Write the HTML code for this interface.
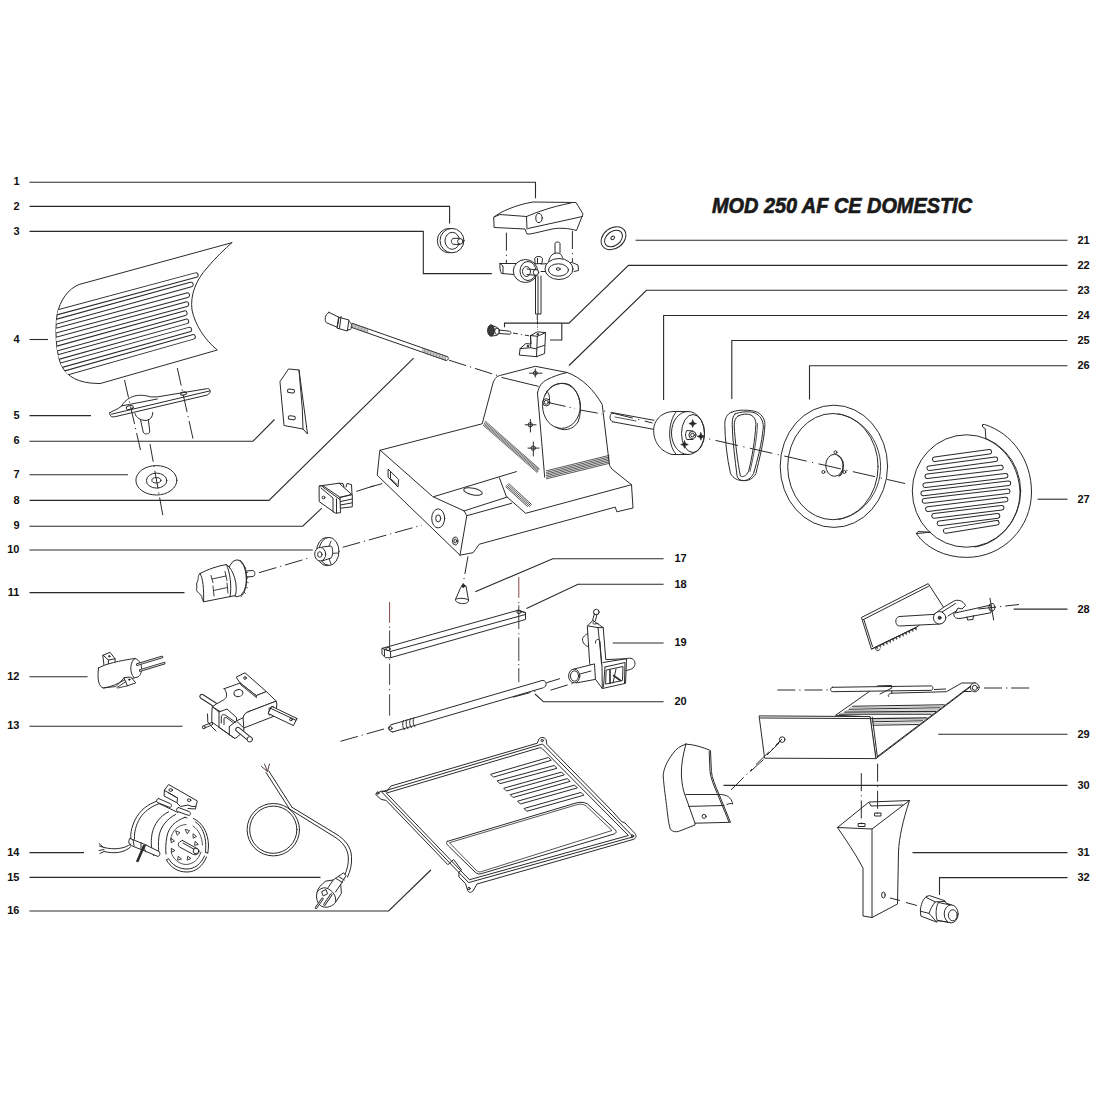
<!DOCTYPE html>
<html><head><meta charset="utf-8">
<style>
html,body{margin:0;padding:0;background:#fff;}
body{width:1100px;height:1100px;overflow:hidden;}
svg{display:block;}
#wrap{width:1100px;height:1100px;}
.lb{font-family:"Liberation Sans",sans-serif;font-weight:bold;font-size:11px;fill:#111;}
</style></head><body><div id="wrap">
<svg width="1100" height="1100" viewBox="0 0 1100 1100">
<defs>
<clipPath id="cov"><path d="M231.8,242.7 L79.1,284.5 C68,289 60,300 57,315 C55,330 56,350 60,362 C64,374 74,381 90,383 L100,383.6 L217.3,350 C205,340 195,325 192,310 C190,295 196,280 207,268 C215,258 225,249 231.8,242.7 Z"/></clipPath>
</defs>
<!-- LABELS -->
<g class="lb" text-anchor="end">
<text x="19.5" y="185">1</text><text x="19.5" y="209.5">2</text><text x="19.5" y="234.5">3</text>
<text x="19.5" y="342.5">4</text><text x="19.5" y="418.5">5</text><text x="19.5" y="444">6</text>
<text x="19.5" y="478">7</text><text x="19.5" y="503.5">8</text><text x="19.5" y="529">9</text>
<text x="19.5" y="553">10</text><text x="19.5" y="595.5">11</text><text x="19.5" y="679.5">12</text>
<text x="19.5" y="729">13</text><text x="19.5" y="855.5">14</text><text x="19.5" y="880.5">15</text>
<text x="19.5" y="914">16</text>
</g>
<g class="lb">
<text x="674.5" y="562">17</text><text x="674.5" y="587.5">18</text><text x="674.5" y="646">19</text><text x="674.5" y="705">20</text>
<text x="1077.5" y="243.5">21</text><text x="1077.5" y="268.5">22</text><text x="1077.5" y="293.5">23</text><text x="1077.5" y="318.5">24</text>
<text x="1077.5" y="343.5">25</text><text x="1077.5" y="368.5">26</text><text x="1077.5" y="502.5">27</text><text x="1077.5" y="612.5">28</text>
<text x="1077.5" y="738">29</text><text x="1077.5" y="788.5">30</text><text x="1077.5" y="855.5">31</text><text x="1077.5" y="881">32</text>
</g>
<text x="712" y="213" style="font-family:'Liberation Sans',sans-serif;font-weight:bold;font-style:italic;font-size:21.5px;fill:#1a1a1a;stroke:#1a1a1a;stroke-width:0.7px" textLength="260" lengthAdjust="spacingAndGlyphs">MOD 250 AF CE DOMESTIC</text>
<!-- LEADERS -->
<g fill="none" stroke="#2a2a2a" stroke-width="1.1">
<path d="M29.5,182.2 H535.5 V198.2"/>
<path d="M29.5,206.4 H449.6 V223.6"/>
<path d="M29.5,231.4 H423.3 V273.6 H491.8"/>
<path d="M29.5,339.5 H48"/>
<path d="M29.5,415.6 H91"/>
<path d="M29.5,441.2 H253 L274.5,419.5"/>
<path d="M29.5,474.8 H128"/>
<path d="M29.5,500.4 H269 L413.6,358.2"/>
<path d="M29.5,526.2 H302.7 L321.8,508.2"/>
<path d="M29.5,550 H312.7"/>
<path d="M29.5,592.6 H184.5"/>
<path d="M29.5,676.7 H87.6"/>
<path d="M29.5,726.2 H182.5"/>
<path d="M29.5,852.6 H84"/>
<path d="M29.5,877.4 H320.5"/>
<path d="M29.5,911 H388.6 L430.9,870"/>
<path d="M663.6,558.7 H552.7 L475.3,591.8"/>
<path d="M663.6,584.2 H578 L526.5,608.5"/>
<path d="M663.6,643 H612.7"/>
<path d="M663.6,701.8 H543.6 L535,694"/>
<path d="M1067.5,240.3 H635.6"/>
<path d="M1067.5,265.4 H628.5 L569,323.1 H561.8 V340 H550 M561.8,323.1 H504.5 V327.3"/>
<path d="M1067.5,290.3 H646.5 L569,365.5"/>
<path d="M1067.5,315.5 H663.6 V400"/>
<path d="M1067.5,340.5 H731.8 V399"/>
<path d="M1067.5,365.7 H809.5 V399.5"/>
<path d="M1067.5,499.2 H1037.6"/>
<path d="M1067.5,609.1 H1013.6"/>
<path d="M1067.5,734.2 H938.2"/>
<path d="M1067.5,785.4 H723.5"/>
<path d="M1067.5,852.6 H912.5"/>
<path d="M1067.5,877.6 H939.5 V895"/>
</g>
<!-- PARTS -->
<g fill="none" stroke="#2a2a2a" stroke-width="1" stroke-linejoin="round" stroke-linecap="round">
<!-- a_cover.svg -->
<path d="M231.8,242.7 L79.1,284.5 C68,289 60,300 57,315 C55,330 56,350 60,362 C64,374 74,381 90,383 L100,383.6 L217.3,350 C205,340 195,325 192,310 C190,295 196,280 207,268 C215,258 225,249 231.8,242.7 Z"/>
<g clip-path="url(#cov)"><path d="M45.0,315.7 L195.8,275.1 M45.0,324.8 L190.9,284.5 M45.0,333.7 L187.2,295.2 M45.0,342.7 L186.4,304.2 M45.0,351.8 L184.8,313.2 M45.0,360.8 L186.4,321.4 M45.0,369.8 L189.3,329.6 M45.0,378.9 L193.0,336.9" stroke-width="5.6"/><path d="M45.0,315.7 L195.8,275.1 M45.0,324.8 L190.9,284.5 M45.0,333.7 L187.2,295.2 M45.0,342.7 L186.4,304.2 M45.0,351.8 L184.8,313.2 M45.0,360.8 L186.4,321.4 M45.0,369.8 L189.3,329.6 M45.0,378.9 L193.0,336.9" stroke="#fff" stroke-width="3.6"/></g>
<!-- b_left.svg -->
<!-- part5 bracket -->
<path d="M135,413.5 C136,418 141,420.5 146,420.5 C150,420 152.5,417.5 152.8,412.5"/>
<path d="M140.5,419.6 L143.2,432 C144,434.5 148.8,434.5 149.8,432 L148.3,419.4"/>
<path fill="#fff" d="M109.8,412.7 C112,411 118,409.5 121.8,405.9 C123.5,402.5 126,400 130.5,397.5 C136,394.8 143,394.5 150.4,396.9 L157.3,396.9 L207.5,388.6 C209.5,388.6 210.5,390 210.2,392.5 L207.3,395 L114.6,416.8 L111.8,416.8 C110,416 109.5,414 109.8,412.7 Z"/>
<path d="M111.5,414.2 L209.5,391 M121.8,405.9 L157.3,399"/>
<ellipse cx="129.8" cy="407.5" rx="3.6" ry="1.8" transform="rotate(-12 129.8 407.5)"/>
<ellipse cx="183.5" cy="393.5" rx="3" ry="1.6" transform="rotate(-12 183.5 393.5)"/>
<!-- axes -->
<g stroke-dasharray="18 4 1.2 4" stroke-linecap="butt">
<path d="M124.5,380 L140.5,450"/>
<path d="M177.3,368 L193,438.7"/>
<path d="M150,444 L163,516.4"/>
</g>
<!-- part7 washer -->
<ellipse cx="156.4" cy="480.3" rx="20.5" ry="14.7"/>
<ellipse cx="156.6" cy="480.6" rx="10.2" ry="7.5"/>
<ellipse cx="156.4" cy="480.3" rx="4.5" ry="2.7"/>
<!-- part6 plate -->
<path d="M289,369 L299,370 L307.5,434 L303,429 L284,425.5 L280,382 Z"/>
<path d="M299,370 L302.3,409 L303,429"/>
<rect x="287.5" y="389.2" width="7" height="3.6" rx="1.6" transform="rotate(8 291 391)"/>
<rect x="288.3" y="416" width="7" height="3.6" rx="1.6" transform="rotate(8 291.8 417.8)"/>

<!-- c_top.svg -->
<!-- part8 rod -->
<path d="M329,312.4 L339,317.3 L337.3,327.3 L326.4,322.7 C324.5,321 324.5,314 329,312.4 Z"/>
<path d="M339,317.3 L349,320 L347.3,331 L337.3,328.2 Z M341,316.5 L339.5,328.5"/>
<path d="M349,321.5 C352,322 352.5,328 350.5,329.5 L347.5,330"/>
<path d="M352.2,323.3 L447.2,356.6 M350.8,327.1 L445.8,360.4"/>
<path d="M447.2,356.6 C449.5,357.4 448.2,361.2 445.8,360.4"/>
<path d="M352.2,323.3 L352.7,327.7 M353.7,323.8 L354.2,328.3 M355.2,324.4 L355.7,328.8 M356.7,324.9 L357.3,329.3 M358.2,325.4 L358.8,329.9 M359.7,326.0 L360.3,330.4 M361.2,326.5 L361.8,330.9 M362.7,327.0 L363.3,331.5 M364.2,327.5 L364.8,332.0 M365.8,328.1 L366.3,332.5 M367.3,328.6 L367.8,333.0 M422.6,348.0 L423.2,352.4 M424.1,348.5 L424.7,353.0 M425.6,349.1 L426.2,353.5 M427.2,349.6 L427.7,354.0 M428.7,350.1 L429.2,354.6 M430.2,350.7 L430.7,355.1 M431.7,351.2 L432.2,355.6 M433.2,351.7 L433.8,356.2 M434.7,352.2 L435.3,356.7 M436.2,352.8 L436.8,357.2 M437.7,353.3 L438.3,357.7 M439.2,353.8 L439.8,358.3 M440.7,354.4 L441.3,358.8 M442.3,354.9 L442.8,359.3 M443.8,355.4 L444.3,359.9 M445.3,356.0 L445.8,360.4" stroke-width="0.6" stroke="#555"/>
<path d="M449,360.2 L497.4,375.5" stroke-dasharray="18 4 1.2 4" stroke-linecap="butt"/>
<!-- part2 knob -->
<ellipse cx="449.3" cy="240.6" rx="12" ry="12.2"/>
<ellipse cx="452" cy="240.6" rx="12" ry="12.2" fill="#fff"/>
<ellipse cx="452.3" cy="240.8" rx="7.3" ry="8.5"/>
<path d="M460,238.3 L454,238.3 C450.5,238.3 450.5,244.4 454,244.4 L460,244.4"/>
<circle cx="460.3" cy="241.4" r="2.7" fill="#fff"/>
<!-- part1 top handle -->
<path d="M494,217 C500,212 515,205 533,202 L576,202.5 L583,214 L576.5,230.5 C568,228 558,227.5 550,229.5 C543,231 536,233 530,234 L527,234 C526,232 525.5,230 525,229 L494.5,227.5 Z"/>
<path d="M494,217 L500,214.5 L526.5,216.5 C535,213 550,207 571,203 M526.5,216.5 L527,229 M528,228.5 L582.5,216.5"/>
<ellipse cx="539" cy="218" rx="3.2" ry="4.6"/>
<g stroke-dasharray="18 4 1.2 4" stroke-linecap="butt">
<path d="M506.4,232.7 V264"/><path d="M572.4,231 V262"/>
<path d="M537.3,314.5 V320"/>
</g>
<!-- part3 assembly -->
<path d="M500,263.5 L535,263.5 M500,263.5 C499.5,267 500,271 501.5,273.5 L514,274.5 M500,263.5 L503,266 L503,273.6"/>
<path d="M541,264 L572,262.5 L578,265 L578.5,270.5 L574,271.5 M541,271.5 L545,271.5"/>
<ellipse cx="525.5" cy="271" rx="12.2" ry="11.5" fill="#fff"/>
<ellipse cx="528" cy="271" rx="8" ry="9.5"/>
<ellipse cx="526.5" cy="271.5" rx="4" ry="5"/><path d="M527,269 L536,269.6 M527,274.6 L536,275.2"/>
<ellipse cx="536" cy="272.4" rx="2.7" ry="2.9" fill="#fff"/>
<path d="M535,258 L537,256.5 L541,256.8 L542.5,258.5 L542,263.5 L535.5,263.8 Z M537.5,258.5 L537.5,263.5"/>
<path d="M535.5,276 L535.5,314 L541,314 L541,276 M538,276 V314"/>
<path d="M548.5,262 C550,255 553,253 558,253 C562,254 563,258 563,260.5" fill="#fff"/>
<path d="M555,253.5 V243.5 C555,241.5 560,241.5 560,243.5 V253"/>
<ellipse cx="559" cy="269" rx="14" ry="10.5" fill="#fff"/>
<ellipse cx="558.5" cy="270" rx="10" ry="6.2"/>
<ellipse cx="558.2" cy="269" rx="2" ry="1.3"/>
<!-- part22 bracket + screw -->
<path fill="#fff" d="M530.7,335.5 L537.3,331.8 L545.5,332.6 L544.6,353.5 L536.5,356.7 L519.3,355.1 L520.1,348.6 L525.8,343.6 L530.7,344 Z"/>
<path d="M530.7,335.5 L537.3,336.3 L545.5,332.6 M537.3,336.3 L536.5,356.7 M530.7,335.5 L530.7,347.7 L520.1,348.6 M530.7,347.7 L536.8,349 M537.3,347.7 L544.6,345.3"/>
<circle cx="537.7" cy="334.2" r="0.8" fill="#222"/><circle cx="527.9" cy="346.1" r="0.8" fill="#222"/>
<path d="M537.5,320.5 V330" stroke-dasharray="4 2 1 2" stroke-linecap="butt"/>
<path d="M491,325 L496.5,327.2 C500.5,328.5 500.5,334 496.5,335.5 L491,336" fill="#fff"/>
<ellipse cx="491" cy="330.5" rx="3.4" ry="5.6" fill="#3a3a3a" stroke-width="1"/>
<ellipse cx="497" cy="331.3" rx="2.3" ry="3.2" fill="#fff"/>
<path d="M499,330 L509.5,331.2 C511.5,331.6 511.5,334 509.5,334.2 L499,333.5"/>
<path d="M513,333 L529,335.8" stroke-dasharray="5 3 1 3" stroke-linecap="butt"/>
<!-- part21 washer -->
<ellipse cx="613.5" cy="238.2" rx="13.5" ry="10.2" transform="rotate(-38 613.5 238.2)"/>
<ellipse cx="613.5" cy="238.5" rx="10" ry="7" transform="rotate(-38 613.5 238.5)"/>
<ellipse cx="612.7" cy="237.9" rx="2" ry="1.5" transform="rotate(-38 612.7 237.9)"/>

<!-- d_body.svg -->
<!-- part23 body outline -->
<path d="M380.2,450.2 L482.2,423.8 L493.1,382.6 C495,378 497,376 500.4,375.4 L535.3,366.3 L567.3,372.5 C582,378 594,390 602.2,404.5 L609.5,465.5 L612.2,469.3 L631.5,484.7 L633,508 L616.8,511.8 L615.3,507.1 L479.3,544.2 L475.4,549.6 L473.1,552.7 L460,555.2 L377.5,475.5 Z"/>
<path d="M380.2,450.2 L432.7,496.6 L464.1,510.9 L466.8,515.7 L460,555.2 M464.1,510.9 L507.1,497.1 M466.8,515.7 L511.7,503.3"/>
<path d="M434,496.6 L516.4,471.6 M499.4,477.8 L506.3,496.3 L525.6,513.3 L631.5,484.7"/>
<!-- tower -->
<path d="M501.8,377.5 L538.2,386.3"/>
<path d="M537.5,392.8 C539,386 542,382 547,379.7 C553,376.5 560,374 567.3,372.5"/>
<path d="M537.5,392.8 L544.7,477.2"/>
<ellipse cx="561.5" cy="405.9" rx="18.9" ry="22.5"/>
<path d="M545,395 C550,384 562,381 570,385 C580,391 583,410 578,422 C573,430 563,432 556,427"/>
<circle cx="546.3" cy="402.3" r="3.6"/><circle cx="546.3" cy="402.3" r="2"/>
<path d="M546.5,391 C549,393 550,397 549.5,400"/>
<path d="M548,402.5 L575,408.5 M580,410 L602.2,413.9" stroke-dasharray="18 4 1.2 4" stroke-linecap="butt"/>
<!-- cross marks -->
<path d="M525.2,424.8 H536 M530.4,419.5 V432 M528,448.1 H539 M533.3,442 V456 M529.5,373.2 H542 M535.3,369 V377"/>
<circle cx="530.3" cy="424.8" r="2.2"/><circle cx="533.3" cy="448.1" r="2.2"/><circle cx="535.3" cy="373.2" r="2"/>
<!-- hatching left slope -->
<path d="M484.4,423.4 L538.2,470.6 M484.9,422.3 L538.7,469.6 M485.4,421.2 L539.2,468.6 M483.9,424.4 L537.7,471.6 M483.4,425.4 L537.2,472.6" stroke-width="0.7"/>
<!-- hatching front bottom -->
<path d="M546.5,470.8 L609,455.4 M546.5,472.4 L609,457.0 M546.5,474.0 L609,458.6 M546.5,475.6 L609,460.2 M546.5,477.2 L609,461.8 M546.5,478.8 L609,463.4" stroke-width="0.8"/>
<!-- hatch near groove -->
<path d="M506.3,485.5 L529.5,506.4 M507.5,484.5 L530.5,505.4 M508.7,483.5 L531.5,504.4 M506,487 L527.5,506.5" stroke-width="0.8"/>
<!-- holes -->
<path d="M388.4,469.3 L398.6,479.5 L398,487 L388.4,477.5 Z M390.5,472 L390.5,478.5 L397,484.5"/>
<ellipse cx="438.2" cy="518.4" rx="6.5" ry="9.5"/>
<ellipse cx="438.2" cy="518.4" rx="2.5" ry="3.5"/>
<ellipse cx="455.2" cy="541" rx="2.7" ry="4"/><ellipse cx="455.2" cy="541" rx="1.3" ry="2"/>
<ellipse cx="473" cy="491.5" rx="9.5" ry="3.3" transform="rotate(12 473 491.5)"/>
<path d="M370,487 L382.3,483.6" stroke-dasharray="18 4 1.2 4" stroke-linecap="butt"/>
<path d="M356.4,491.4 L376.4,485" stroke-dasharray="18 4 1.2 4" stroke-linecap="butt"/>


<!-- e_right.svg -->
<!-- part24 -->
<path d="M612.7,412.7 L654,420.3 M612.7,421.8 L653.5,429.3 M612.7,412.7 C609,413.5 609,421 612.7,421.8"/>
<path d="M615,417 L636,421" stroke-width="0.8"/>
<path d="M688,411.5 L673,411.5 C663,412 656,418 654,426.5 C652.5,436 656,450 672,454.5 L688,454.5"/>
<path d="M676,412 C668,422 667,444 676,454.2"/>
<ellipse cx="688" cy="433" rx="16.5" ry="21.5"/>
<ellipse cx="693" cy="433.5" rx="11.5" ry="19"/>
<path d="M687,430.5 L693,431 M687,439.5 L693,439.5 M687,430.5 C685,432 685,438 687,439.5"/>
<circle cx="692.5" cy="435" r="3.6"/><circle cx="692.5" cy="435" r="1.8"/>
<path d="M692.7,419.8 L693.8,422.5 L696.5,423.6 L693.8,424.7 L692.7,427.4 L691.6,424.7 L688.9,423.6 L691.6,422.5 Z M700.9,432.6 L702,435.3 L704.7,436.4 L702,437.5 L700.9,440.2 L699.8,437.5 L697.1,436.4 L699.8,435.3 Z M684.5,440.7 L685.6,443.4 L688.3,444.5 L685.6,445.6 L684.5,448.3 L683.4,445.6 L680.7,444.5 L683.4,443.4 Z" fill="#222" stroke-width="0.6"/>
<path d="M600,410 L652.5,423 M705,438 L905,483.5" stroke-dasharray="23 5.5 1.2 5.5" stroke-dashoffset="24.4" stroke-linecap="butt"/>
<!-- part25 -->
<path d="M731.4,412.3 C736,410.5 740,410 743.6,410.2 C749,410 754,410.8 757.6,412.3 C762,415 764.9,419 764.9,424.5 C764.5,440 759,460 755.9,473.6 C753,479 748,481 743.6,480.6 C738,481 733,478 730.5,473.6 C727,458 725,440 724.8,424.5 C724.8,418 727,414 731.4,412.3 Z"/>
<path d="M735,414 C740,411.5 750,411 755,413 C760,415.5 763.3,420 763.3,427 C762,443 757,462 753.5,473.6 C751,478.5 747,480.5 743.6,480.6 C740,480.5 738,479 737.1,476.1 C735,460 732.5,440 732.2,424.5 C732.2,419 733,416 735,414 Z"/>
<path d="M738,416 C742,413.8 748,413.5 751,415 C754.5,417 756,420 755.9,424.5 C755,440 752,458 748.6,471.2 C746.5,476 742.5,477.5 740.4,476.1 C737.5,462 735,440 734.2,426.2 C734,421 735.5,417.5 738,416 Z"/>
<path d="M757.5,423.5 C757,440 753,458 750,471.5" stroke-width="0.8"/>
<!-- part26 -->
<ellipse cx="833.9" cy="466.3" rx="53.7" ry="61.1"/>
<ellipse cx="832.9" cy="466.6" rx="45.2" ry="53.1"/>
<path d="M838,413.8 C862,418 880.5,440 880.6,466.6 C880.5,494 862,515.5 838,519.5" stroke-width="0.9"/>
<ellipse cx="834.5" cy="465.3" rx="8.8" ry="11"/>
<path d="M838,455.5 C842.5,458 843.8,464 843,470 C842.3,473 841,475 839,476" stroke-width="1.2"/>
<circle cx="835.5" cy="452.3" r="1.5"/><circle cx="823.4" cy="472" r="1.5"/><circle cx="844.4" cy="472" r="1.5"/>
<!-- part27 -->
<ellipse cx="966.5" cy="491" rx="54.2" ry="56.2"/>
<path d="M985.9,438.9 C1005,447 1019,467 1020,492 C1020,520 1000,543 975,547" />
<path d="M982.5,426.6 L985.2,428.6 L985.9,438.9 M982.5,426.6 L982.5,424.5 L984.5,424.5 C1012,433 1031.5,460 1031.5,492 C1031.5,528 1003,557.4 966.5,557.4 C945,557.4 926,548 916.4,533.6 L930,532.2"/>
<path d="M916.4,533.6 L918,531.5 L930,532.2"/>

<path d="M934.8,459.3 L989.3,451.8 M929.3,468.2 L995.4,459.3 M927.3,476.3 L1000.9,467.5 M925.2,485.2 L1005.6,475.7 M923.2,493.4 L1008.4,483.2 M924.5,500.9 L1007.7,491.3 M927.9,509.1 L1005.6,499.5 M934.1,515.9 L1001.6,507.7 M939.5,523.4 L997.5,515.9 M945.7,530.9 L996.8,522.7" stroke-width="5.6"/><path d="M934.8,459.3 L989.3,451.8 M929.3,468.2 L995.4,459.3 M927.3,476.3 L1000.9,467.5 M925.2,485.2 L1005.6,475.7 M923.2,493.4 L1008.4,483.2 M924.5,500.9 L1007.7,491.3 M927.9,509.1 L1005.6,499.5 M934.1,515.9 L1001.6,507.7 M939.5,523.4 L997.5,515.9 M945.7,530.9 L996.8,522.7" stroke="#fff" stroke-width="3.6"/>
<!-- f_midleft.svg -->
<!-- part9 switch -->
<path d="M319.5,486 L322.7,485.5 L340,497.3 L340.5,512.7 L335.5,513.2 L319.5,501.8 Z"/>
<path d="M322.7,485.5 L322.7,487 L340,499.5 M321,488 L333,498 L333,512 M336.5,499 L336.5,513"/>
<path d="M319.5,486 L339,483.2 L351.8,494.5 L340,497.3 M339,483.2 L343,483.5 L344,487 M346,487 L347,483.5 L351.5,484.5 L352,494"/>
<path d="M340.2,497.5 L352.3,494.5 L352.3,506.8 L340.5,508.2 M340.5,501.5 L352.3,499 M340.5,505 L352.3,502.8"/>
<circle cx="323.5" cy="497.5" r="1.4"/>
<!-- part10 small knob -->
<ellipse cx="327" cy="551.6" rx="10.5" ry="14.1"/>
<ellipse cx="329" cy="551.4" rx="10" ry="14" fill="#fff"/>
<path d="M331,541 L328.5,547.5 M330.5,553.5 L338.5,553 M329,558.5 L331,564" stroke-width="0.9"/>
<path d="M322,547 L331,546 C333,547 333.5,555 331,558 L322,561" fill="#fff"/>
<ellipse cx="320.2" cy="554.2" rx="5.5" ry="6.8" fill="#fff"/>
<ellipse cx="319.8" cy="554.5" rx="2.2" ry="2.8"/>
<!-- part11 knob -->
<ellipse cx="237" cy="578.3" rx="9.8" ry="18.5" fill="#fff"/>
<path d="M240,560.3 C247,564 249.5,590 241,596.6"/>
<path d="M241.5,563 L243,564.5 M244,567 L246,568 M245.5,572 L247.5,572.5 M246.2,577 L248.2,577 M246.2,582 L248.2,582.5 M245.6,587 L247.5,588 M244,592 L245.5,593.5" stroke-width="0.8"/>
<path fill="#fff" d="M200,573.6 C208,569 218,566 226.4,564.5 C234,570 238,585 235.5,595.5 L203.6,601.8 C202.5,600.5 202,598.5 201.8,596.4 C201,594 197,593 196.4,589.5 C198,587 195.5,585 197.3,581.8 C199,579 197,576 200,573.6 Z"/>
<path d="M200,573.6 C203,577 204,590 203.6,601.8 M226.4,564.5 C230,572 232,586 230,597"/>
<path d="M211,575.5 L213,582.5 M225,571.5 L227,580.5 M212,579 L226,576 M213,586 L214,596 M227,583 L228,593 M213.5,590.5 L227.5,587.5" stroke-width="0.9"/>
<path d="M246.4,571 L253,570.5 C255.5,571.5 255.5,575.5 253,576.5 L246.6,577"/>
<path d="M259,572.7 L308.2,558.2 M342.7,547.3 L421.8,525.2" stroke-dasharray="18 4 1.2 4" stroke-linecap="butt"/>
<!-- part12 capacitor -->
<path fill="#fff" d="M103.1,655.2 L110,652.3 L115.1,658.8 L115.1,663.2 L108.2,666.1 L104.5,666 Z"/>
<path d="M103.1,655.2 L108.5,660 L115.1,658.8 M108.5,660 L108.2,666.1"/>
<circle cx="109.3" cy="656.3" r="0.7" fill="#222"/>
<path fill="#fff" d="M98.5,668 C105,664 120,660.5 135,658.5 C140,660 142,666 141.6,670 C141,675 139,677 136,677.5 L124,680 C118,684 112,686.5 103.5,688 C99,687 97,680 98.5,668 Z"/>
<path d="M135,658.5 C130,661 129,673 134,677.5"/>
<path d="M137.3,664.6 L162,657 M140.2,670.5 L164.2,663.2" stroke-width="2.6"/>
<path d="M137.3,664.6 L162,657 M140.2,670.5 L164.2,663.2" stroke="#fff" stroke-width="0.8"/>
<path fill="#fff" d="M124.2,677.7 L130.7,677 L135.8,682.8 L127.8,685.7 Z"/>
<circle cx="129.3" cy="679.6" r="0.7" fill="#222"/>
<path d="M124.2,677.7 L116,686.5 L103.5,688 M127.8,685.7 L118,688 M126,681.5 L117,687.5" stroke-width="0.9"/>
<!-- part13 switch bracket -->
<path d="M202,696.5 L216,705.5" stroke-width="5.2"/><path d="M202,696.5 L216,705.5" stroke="#fff" stroke-width="3.2"/>
<path fill="#fff" d="M236.5,677 L245,672.8 L266.4,691.6 L256.2,695.6 L240.2,683 Z"/>
<circle cx="245" cy="678" r="1.3"/>
<path fill="#fff" d="M224.2,688.7 L240.2,683 L256.2,695.6 L266.4,691.6 L276.2,701.1 L249,711.5 C246,712.5 244,714 243.1,717.8 L236,721 L212.5,706.9 L216.2,704 C222,701 226,699 226.4,696.7 C227,693 225.5,690 224.2,688.7 Z"/>
<path d="M240.2,683 L241,685 L256.5,697.5 L256.2,695.6"/>
<ellipse cx="238.4" cy="693.1" rx="4.5" ry="3.5" transform="rotate(-10 238.4 693.1)"/>
<path fill="#fff" d="M249,711.5 L276.2,701.1 L276.9,704 L275.6,715.6 L243.8,728 L243.1,717.8 C244,714 246,712.5 249,711.5 Z"/>
<path d="M269.5,708 L273.5,706.5 L273.5,713.5 L269.5,715 Z"/>
<path fill="#fff" d="M272,706.5 L297,718.5 L293.4,725.6 L268.4,713.6 Z"/>
<path d="M271,708.5 L296,720.3 L297,718.5"/>
<circle cx="291" cy="719.5" r="1.3"/>
<path fill="#fff" d="M212.5,706.9 L219,712 L227,709 L236.5,717.5 L236.5,721 L243.8,728 L243.8,731 L236,738 L234.4,738.2 L211.8,722 L211.8,714.2 Z"/>
<path d="M221.3,723 L221.3,717 C221.3,714.5 224,714 226,715.5 L235.8,722.5 M224,724.5 L224,719 C224,717.5 225.5,717 227,718 L233,722.5"/>
<path d="M219,712 L219,727.5 M229.3,726.5 L229.3,735 M219,727.5 L234.4,738.2 M236.5,721 L229.3,726.5"/>
<path d="M238,729.5 L249.6,739" stroke-width="5.4"/><path d="M238,729.5 L249.6,739" stroke="#fff" stroke-width="3.4"/>
<ellipse cx="249.8" cy="739.3" rx="2.7" ry="2.7" fill="#fff"/>
<path d="M204,727 L211.5,723.8" stroke-width="3.2"/><path d="M204,727 L211.5,723.8" stroke="#fff" stroke-width="1.4"/>
<circle cx="203.8" cy="727.3" r="1.5" fill="#fff"/>
<path d="M207.5,714 L207.8,722 L212,727 L216,731"/>

<!-- g_bottom.svg -->
<!-- part14 motor -->
<path d="M157.7,800.9 C148,804 140,810 135,820 C131,828 130,836 131.1,840.5"/>
<path d="M159.1,803.6 C150,807 144,812 140,818 C136,825 134,832 134.5,839.1"/>
<path d="M159.1,803.6 L178,812.5"/>
<path d="M168.6,811.8 C160,816 154,824 152,834 C150.5,843 151.5,850 153.6,855.5"/>
<path d="M175.5,814.5 C167,819 161,826 159,836 C158,844 158.5,850 159.1,854.1"/>
<path d="M185,817.3 C175,821 169,827 167,836 C165.5,844 165.5,850 166,854"/>
<path d="M185,817.3 L187,818"/>
<path d="M193.5,818.5 C203,823 208,833 208.5,845 C208.5,848 208.2,851 207.8,853"/>
<path d="M195.5,822 C202,826 205.5,835 205.8,845 C205.8,848 205.6,850 205.3,852.5 L207.8,853"/>
<path d="M206.5,857 C203,866 196,872 187,872 C178,872 171,868 166.5,860"/>
<path d="M204.5,856 C201,864 194.5,869 187,869 C179,869 172,865 168.5,858.5 L166.5,860"/>
<path d="M170.5,840 C172,830 178,825 186,824.5 M193,826 C199,830 202,837 202.5,845 M201,852 C198.5,860 193,864 186.5,864.5 C179,864.5 173,859 171,852" stroke-width="0.8"/>
<path d="M176,831 L180,832.5 L177.5,835 Z M185.5,829.5 L189.5,830.5 L187.5,833.5 Z M193.3,834 L196.5,836.5 L193.5,838 Z M195.5,841.5 L198.3,844.5 L195,845.3 Z M188,856.5 L191,858.5 L187.5,860 Z M178.5,856.5 L181.5,859 L178,860 Z M171.5,848.5 L175,850.5 L172,852 Z M171.5,838.5 L174.5,841 L171.5,842.5 Z" stroke-width="0.9"/>
<path fill="#fff" d="M182.5,840.5 L197,848.5 C199.5,850 199.5,853 197.5,854 C196,855 194,855 192.5,854 L179.5,847 C177.5,845.5 177.5,842 182.5,840.5 Z"/>
<path d="M183,843 L197,851"/>
<circle cx="196" cy="851" r="2.8" fill="#fff"/>
<path fill="#fff" d="M164.5,790 L168.6,784.5 L197.3,800.9 L195.9,806.4 L192,806.5 L188,805 L180.5,806.5 L177,803 L177.5,798 L168,792.5 Z"/>
<path d="M164.5,790 L164,796 L176.5,802.5 M168,792.5 L177.5,798 M195.9,806.4 L195.5,809 L188,808.5"/>
<ellipse cx="170.7" cy="790" rx="1.8" ry="1.3"/><ellipse cx="189.1" cy="800.2" rx="1.8" ry="1.3"/>
<path fill="#fff" d="M158.5,798.5 L170,803.5 C172,804.5 172,807 170,807.5 L157.5,802.5 C156,801.5 156.5,798.5 158.5,798.5 Z"/>
<path fill="#fff" d="M178.5,807.5 L189,811.5 C191,812.5 191,815 189,815.5 L177.5,811.5 C176,810.5 176.5,807.5 178.5,807.5 Z"/>
<path fill="#fff" d="M130,838.5 L145,844.5 L158,851 C160.5,852 160.5,855.5 158,856.5 L146,851.5 L131,845.5 C128.5,844.5 128,839.5 130,838.5 Z"/>
<path d="M133,839.5 L134,845.5 M146,845 C144,846 144,850.5 146,851.5 M141,842.5 L141,848.5"/>
<path d="M130.5,847 C124,853 114,854 104,851.5 M131,844 C124,849 114,850 104,847.5"/>
<path d="M104,847.5 L99.5,846 M104,849.5 L99,850.5 M104,851.5 L100,853.5 M103,847 L99,843.5"/>
<path d="M144,846 L137.5,861" stroke-width="2.6" stroke-dasharray="1 0.6"/>
<!-- part15 cord -->
<circle cx="273.3" cy="829.7" r="26.2"/>
<circle cx="273.3" cy="829.7" r="23.6"/>
<path d="M266,772.5 L289.5,809 M268.8,771 L292,807.3"/>
<path d="M289.5,809 L334,836.5 C343,842 347.8,849 348.3,857 C348.8,864 347,870 344.5,875.5"/>
<path d="M292,807.3 L336,834 C345.5,840 351,847 351.5,856.5 C352,864 350.5,871 347.5,877"/>
<path d="M267.5,771.5 L261.5,766.5 M267.5,771.5 L264.5,764 M267.5,771.5 L269.5,764" stroke="#5a3a3a"/>
<path fill="#fff" d="M343.3,873 L333.1,880 L325.5,881.2 C321,885 318,888 317.2,892 C315.5,897 317,904 322,906.5 C327,908.5 333,906 335.6,902.2 L341.4,893.3 L340.7,884.4 L345.8,876 Z"/>
<path d="M317.2,892 C320,888 324,887 327.5,888.5 C333,891 336.5,896 335.6,902.2 M327.5,888.5 L333.1,880 M335.5,892 L340.7,884.4 M336,878.5 L342.5,882.5 M338.5,876.5 L344.3,880"/>
<path d="M316,907.8 L322.5,898.8 M324.5,904.5 L331.3,894.5" stroke-width="2.4"/>
<path d="M316,907.8 L322.5,898.8 M324.5,904.5 L331.3,894.5" stroke="#fff" stroke-width="0.9"/>
<path d="M322,891.5 L326,889.5 L327.5,893.8 L323.5,895.8 Z"/>
<!-- part16 tray -->
<path d="M375.8,794.1 L381.5,791 L386.7,791.8 L390.7,786.1 L537.3,743.2 L538.5,740 C539.5,737 544,736.5 546,739.5 L546.9,744.4 L612.4,811.3 L621.5,821.5 L625,823 L635,833.5 C637,836.5 636,838.5 633,839.5 L477,884 L473,891 C471,893 468,892.5 467.5,890 L465.5,883.5 L458.9,877 L458.9,872 L461.5,870 L453.6,859.5 L447.9,864.7 L386.2,800.4 L381.5,799.5 Z"/>
<path d="M381.9,791.7 542.5,744.0 633.3,836.8 469.0,882.5 Z"/>
<path d="M386.7,793.0 L538,748.2 C540,747.6 541.5,747.6 542.5,748.8 L628.4,835.5 L469.8,879.6 Z"/>
<circle cx="377.8" cy="793" r="1.2"/><circle cx="542.2" cy="740.5" r="1.2"/><circle cx="632.5" cy="836" r="1.2"/><circle cx="469" cy="888.5" r="1.2"/>
<path d="M447.3,841.4 L576,803 C580,801.8 584,802 587.6,804 L614.5,829 C617,831.5 616.5,833 614,834 L482,873.5 C479,874.5 477,874 475,872 L448.5,846 C446,843.5 446,842 447.3,841.4 Z"/>
<path d="M449.8,842.6 L576.5,804.8 C579.8,803.8 583,804 586,805.8 L612,830.5 L481.5,871.6 C479.5,872.2 478,872 476.5,870.5 Z" stroke-width="0.8"/>
<path d="M491.0,774.2 L548.4,757.5 L551.2,760.3 L493.8,777.0 Z M497.5,780.8 L554.2,765.5 L557.0,768.3 L500.3,783.6 Z M504.1,788.1 L561.5,772.1 L564.3,774.9 L506.9,790.9 Z M510.6,794.6 L567.3,778.6 L570.1,781.4 L513.4,797.4 Z M517.9,801.1 L574.6,785.1 L577.4,787.9 L520.7,803.9 Z M524.4,808.4 L581.1,792.4 L583.9,795.2 L527.2,811.2 Z"/>

<!-- h_mid.svg -->
<!-- part17 foot -->
<path d="M468,556.3 L462.8,585.5" stroke-dasharray="18 4 1.2 4" stroke-linecap="butt"/>
<path fill="#fff" d="M461,587 C462,585 464,584.5 466,586 L468.5,600 C468.5,603 465,604 461.5,603.5 C457.5,603 455,601.5 455.5,599.5 Z"/>
<path d="M455.5,599.5 C458,597.5 466,598 468.5,600"/>
<circle cx="463.3" cy="586" r="1.4" fill="#222"/>
<!-- part18 bar -->
<path fill="#fff" d="M382.3,648.3 L388.5,646.6 L518.2,610.2 L525.5,612.7 L525.5,619.5 L390.6,657.7 L385.4,657.7 L382.3,654.5 Z"/>
<path d="M382.3,648.3 L384.4,649.3 L390.6,651.4 L525.5,614.5 M384.4,649.3 L384.5,656 M390.6,651.4 L390.6,657.7 M518.2,610.2 L525.5,612.7"/>
<path d="M389.6,602 V622.8" stroke="#7a3030" stroke-linecap="butt" stroke-width="0.9"/><path d="M389.6,626.5 V627.8 M389.6,630.5 V651 M389.6,659 V660 M389.6,663.6 V684.8 M389.6,689 V690.3 M389.6,694.3 V715.6" stroke-linecap="butt" stroke-width="0.9"/>
<path d="M518.8,577.1 V597.8" stroke="#7a3030" stroke-linecap="butt" stroke-width="0.9"/><path d="M518.8,601.9 V603.1 M518.8,605.5 V629.1 M518.8,633.2 V634.4 M518.8,637.4 V661 M518.8,664 V665.2 M518.8,668.1 V682.3" stroke-linecap="butt" stroke-width="0.9"/>
<ellipse cx="388" cy="649" rx="2.2" ry="1.5"/><ellipse cx="519" cy="612" rx="2.2" ry="1.5"/>
<!-- part20 rod -->
<path d="M392,724.5 L542,680.5 C545,680 546.5,682.5 546,685 C545.5,687 544,687.5 542.5,688 L392.5,732" fill="#fff"/>
<path d="M392,724.5 C388,725 387,731 392.5,732"/>
<circle cx="390.5" cy="728.3" r="1.6"/>
<path d="M403.5,720.5 C402,723 402.5,728 404.5,729.8 M407,719.5 C405.5,722 406,727 408,728.8 M410.5,718.5 C409,721 409.5,726 411.5,727.8 M414,717.5 C412.5,720 413,725 415,726.8"/>
<path d="M340.5,741.3 L388.5,727.7 M546.4,682.8 L560,678.6" stroke-dasharray="18 4 1.2 4" stroke-linecap="butt"/>
<!-- part19 -->
<circle cx="596.3" cy="612.1" r="2.8"/><path d="M594.5,613.5 L592.5,620.5 M597,614 L595.5,620.5"/>
<path fill="#fff" d="M589.5,633 C585,634 582.5,638 582.5,639 C582.5,643 585,646 589.5,647 Z"/>
<path fill="#fff" d="M587.6,625.9 L592.8,620.3 L603.2,627.6 L605.8,659.6 L626.5,658.7 L625.6,683.3 L602.3,688.5 L595.5,679.4 L589.8,663.9 Z"/>
<path d="M587.6,625.9 L598,627.6 L603.2,627.6 M598,627.6 L602,666 L602.3,688.5 M594,621.5 C592,622.5 592.5,624 594.5,624 L598,623.5"/>
<path d="M595.5,643 C595,639 599,638 600,641.5 L601.5,664"/>
<path d="M603,662.5 L626.5,658.7 M605,667 L603.5,687 M605,667 L625,662.5 L624.5,683.5"/>
<path d="M606.5,670 L623,666.5 L622.5,680.5 L606,684 Z"/>
<path d="M610,670 L610,683.5 M613.5,675.5 L620.5,680.5" stroke-width="1.6"/>
<path d="M616,669 L613,683"/>
<path d="M626.5,658.7 C631,657 634.5,659 635,663 C635,667 633,669.5 626,670.5"/>
<path fill="#fff" d="M574.2,669 L594.5,663.9 L595.4,679.4 L576.4,682.9 Z"/>
<ellipse cx="574.2" cy="676" rx="5.6" ry="6.9" fill="#fff"/>
<ellipse cx="574.5" cy="676" rx="4" ry="5.2"/>
<path d="M580,674 L591,671"/>
<path d="M550.5,690.2 L575.5,682.5 M513,697.2 L535.5,691.2" stroke-dasharray="18 4 1.2 4" stroke-linecap="butt"/>

<!-- i_rbot.svg -->
<!-- part28 pusher -->
<path fill="#fff" d="M861.8,617.3 L928.2,583.6 L943.6,607.3 L916.4,627.3 L871.8,649 Z"/>
<path d="M862.5,620 L928.5,586.3 M864,620 L872.5,646.5"/>
<path d="M871.8,649 L916.4,627.3"/>
<path d="M875.8,647.1 L877.4,646.3 L877.6,648.7 Z M879.0,645.6 L880.6,644.8 L880.8,647.1 Z M882.3,644.0 L883.9,643.2 L884.0,645.6 Z M885.5,642.4 L887.1,641.6 L887.3,644.0 Z M888.7,640.8 L890.3,640.0 L890.5,642.4 Z M892.0,639.2 L893.6,638.4 L893.7,640.8 Z M895.2,637.7 L896.8,636.9 L897.0,639.2 Z M898.4,636.1 L900.0,635.3 L900.2,637.7 Z M901.7,634.5 L903.3,633.7 L903.4,636.1 Z M904.9,632.9 L906.5,632.1 L906.7,634.5 Z M908.1,631.3 L909.7,630.5 L909.9,632.9 Z M911.4,629.8 L913.0,629.0 L913.1,631.3 Z M914.6,628.2 L916.2,627.4 L916.4,629.8 Z" fill="#333" stroke-width="0.5"/>
<path d="M875.5,647.5 C875,651 879,652 880,649" />
<path fill="#fff" d="M899.5,616.5 L940,614 L940,624 L899.5,626 C895,626 894,617 899.5,616.5 Z"/>
<path fill="#fff" d="M943.6,607.3 L954,601 C957,599.5 963,600 965.5,605.5 L962,609 L958,608 L955,613 L991,605 L991,612.7 L960,618.5 C955,619 953,616 954,613"/>
<path d="M942,612 L955.5,603.5 M957,610.5 L948,616"/>
<circle cx="939.6" cy="617.8" r="6.2" fill="#fff"/><circle cx="939.6" cy="617.8" r="1.5" fill="#444"/>
<path d="M967,617 L967.5,620 L973,619.5 L973.5,615.5"/>
<ellipse cx="991.8" cy="607.3" rx="3" ry="3.8"/>
<path d="M990,598.2 L993.6,620"/>
<path d="M978.2,609 L1019,604.5" stroke-dasharray="18 4 1.2 4" stroke-linecap="butt"/>
<!-- part29 carriage -->
<path d="M777.3,690 L830,690 M934,689.5 L946,689 M984,688 L1033,688" stroke-dasharray="18 4 1.2 4" stroke-linecap="butt"/>
<path fill="#fff" d="M835.9,715 L877.4,685.9 L891.2,685.5 L891.9,693.2 L946.5,691.7 L961.7,683 L975.5,683 L875.9,758.6 L870.1,717.2 Z"/>
<path d="M832.3,687.3 L931.2,685.9 C933.5,686.2 933.5,690 931.2,690.3 L832.3,691.7 C830,691.4 830,687.6 832.3,687.3 Z" fill="#fff"/>
<path d="M891.2,685.5 L891.9,688 L880,694 M891.9,693.2 C889,693.5 887.5,695 888.5,696.5"/>
<path d="M852.6,706.3 L944.3,704.8 M849,709.2 L939.9,707.7 M844.6,712.1 L935.5,711.4 M839.5,714.3 L931.2,714.3 M871.5,718.6 L926.8,717.9 M872.3,721.8 L922.5,720.8 M873,725.2 L918.1,724.5" stroke-width="1.1"/>
<path d="M850,707.8 L942,706.3 M846.5,710.7 L937.7,709.6 M842,713.2 L933.3,712.9 M871.8,720.2 L924.7,719.4 M872.6,723.5 L920.3,722.7" stroke-width="0.6" stroke="#888"/>
<path fill="#fff" d="M759.5,715.9 L870.1,716.6 L875.9,758.6 L765,758.2 Z"/>
<path d="M760.5,718 L870.5,718.6 M872.3,717.2 L877.3,756.5"/>
<path d="M877.3,756.5 L972.5,684.5"/>
<circle cx="974.8" cy="687.4" r="4.4" fill="#fff"/><circle cx="974.8" cy="687.8" r="2.5"/>
<path d="M963,691.5 L971,691.5"/>
<circle cx="782.2" cy="739.6" r="2.8"/>
<path d="M779.5,742.5 L767,755 M763.5,759.5 L750,771.8" stroke-dasharray="18 4 1.2 4" stroke-linecap="butt"/>

<!-- part30 -->
<path fill="#fff" d="M685.9,744.1 C680,746 676,749 673.2,753.2 C667,761 663.5,769 663.2,775.9 C664,788 666,800 666.8,807.7 C668,818 669,826 670.5,829.5 C673,832 676,832 678.6,831.4 L695,825 L695,823.2 L730.5,822.3 L718.6,793.2 C715,785 712,778 711.4,771.4 L710.5,750.5 C702,747 694,744.5 685.9,744.1 Z"/>
<path d="M685.9,744.1 C683,755 681,765 681.4,775.9 C682,784 683,790 685,795 L695,823.2"/>
<path d="M709.2,751.5 L710,771.5 C711,779 714,786 717.3,793.5 L729,822"/>
<path d="M685.9,794.5 L721.4,794.5 C725,795 728.5,796 729.5,797.7 C731.5,800 732.5,802 732.7,804.1 C731,803 729,803.5 726.8,804.5 M688.6,806.4 L724.1,805.5"/>
<circle cx="704.1" cy="816.4" r="2"/>
<path d="M731,790 L752,769 M756,764.5 L782,739" stroke-dasharray="18 4 1.2 4" stroke-linecap="butt"/>
<!-- part31 leg -->
<path fill="#fff" d="M837.5,827.5 L869,802 L909.5,800.5 C903,820 899,838 898.5,852 L897.5,904 L872,917.5 L863,916 L863,868 C855,853 846,840 837.5,827.5 Z"/>
<path d="M837.5,827.5 L872,829 L909.5,800.5 M872,829 L872,917.5 M869.5,803 L871,806 L903,805"/>
<path d="M858.5,823.5 L865,823.5 L865,826.5 L858.5,826.5 Z M875,813 L881,813 L881,816 L875,816 Z"/>
<ellipse cx="883.4" cy="895" rx="1.8" ry="3"/>
<path d="M890,898 L900,900.5 M906,902.5 L917,905.5" stroke-dasharray="18 4 1.2 4" stroke-linecap="butt"/>
<path d="M861.3,773.2 V824.5 M877.6,763.6 V814" stroke-dasharray="18 4 1.2 4" stroke-linecap="butt"/>
<!-- part32 nut -->
<path fill="#fff" d="M926.4,896.5 L929.6,895.6 L944.9,900.8 L946,903 L951.5,905 L951,922.6 L937.3,920.5 L936.7,922.1 L920.9,916.1 L920.4,911.2 C920.5,905 923,899 926.4,896.5 Z"/>
<path d="M926.4,897.5 L935.1,901.9 L945,901.5 M935.1,901.9 C932,906 930,910 929.1,913.4 L920.4,911.2 M929.1,913.4 L936.7,922.1 M938.4,902.5 L951.5,905.2 M937.3,920.5 L950.9,922.6 M938.4,902.5 C935.5,907 935.5,916 937.3,920.5"/>
<ellipse cx="951.2" cy="913.9" rx="7" ry="9" fill="#fff"/>
<ellipse cx="952.8" cy="915.3" rx="4.4" ry="5.5"/>

</g>
</svg></div>
</body></html>
